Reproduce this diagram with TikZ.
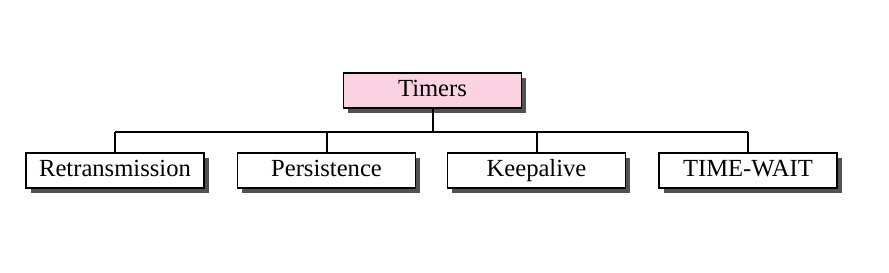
\documentclass[tikz,border=0pt]{standalone}
\usepackage{fontspec}
\setmainfont{Liberation Serif}
\usetikzlibrary{shadows,calc}
\definecolor{timerpink}{HTML}{FAD2E2}
\tikzset{tbox/.style={draw, line width=0.9pt, fill=white, minimum width=89pt, minimum height=17.5pt, inner sep=0pt,
    text height=8.4pt, text depth=2.6pt, font=\fontsize{12.3}{14}\selectfont,
    drop shadow={shadow xshift=2.3pt, shadow yshift=-2.3pt, fill=black!68, opacity=1}},
  link/.style={line width=1pt}}

\begin{document}
\begin{tikzpicture}[x=0.5pt,y=-0.5pt]
  \useasboundingbox (0,0) rectangle (889,273);
  % root
  \node[tbox, fill=timerpink] (tm) at (432.5,90.5) {Timers};
  % the four timers
  \node[tbox] (rt) at (115,170.5) {Retransmission};
  \node[tbox] (ps) at (326.5,170.5) {Persistence};
  \node[tbox] (ka) at (536.5,170.5) {Keepalive};
  \node[tbox] (tw) at (748,170.5) {TIME-WAIT};
  % tree lines
  \coordinate (bus) at (0,132);
  \draw[link] (tm.south) -- (tm.south |- bus);
  \draw[link] (rt.north |- bus) -- (tw.north |- bus);
  \foreach \n in {rt,ps,ka,tw}
    \draw[link] (\n.north |- bus) -- (\n.north);
\end{tikzpicture}
\end{document}
